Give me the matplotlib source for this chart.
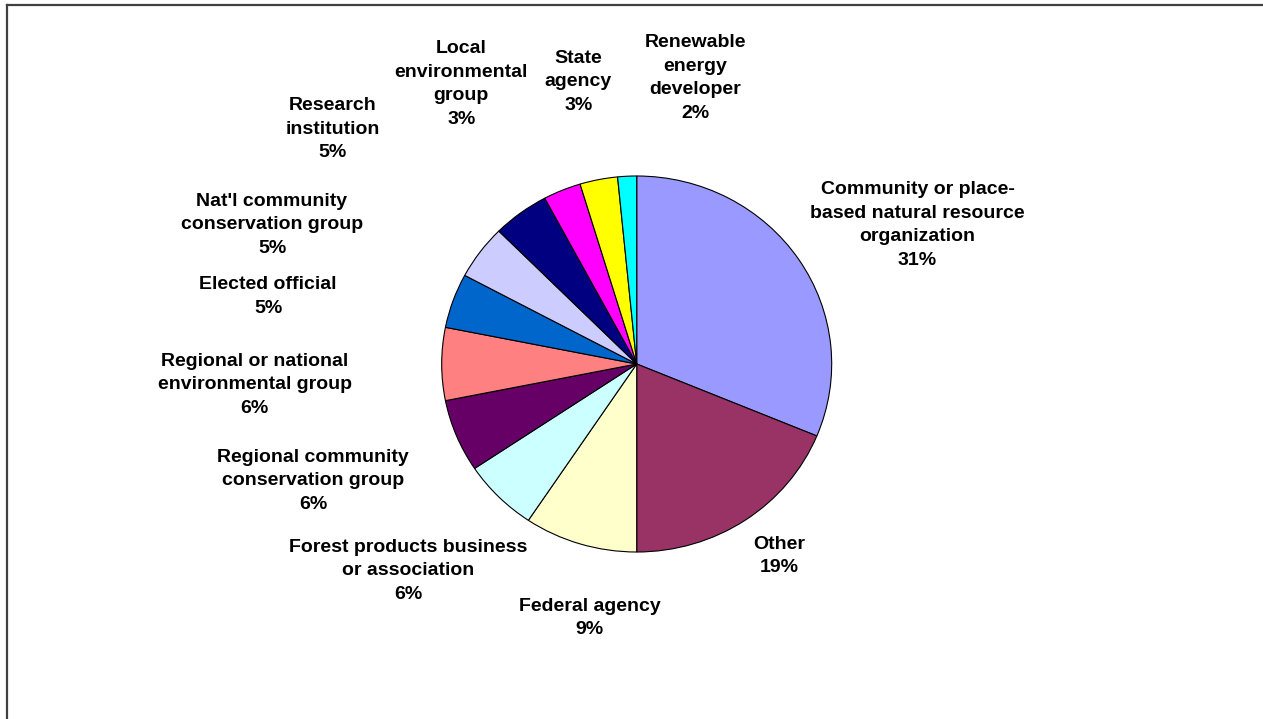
#!/usr/bin/env python3
import matplotlib

matplotlib.use("Agg")
import matplotlib.pyplot as plt
from matplotlib.lines import Line2D

# respondent counts by organization type (clockwise from 12 o'clock)
categories = [
    "Community or place-\nbased natural resource\norganization",
    "Other",
    "Federal agency",
    "Forest products business\nor association",
    "Regional community\nconservation group",
    "Regional or national\nenvironmental group",
    "Elected official",
    "Nat'l community\nconservation group",
    "Research\ninstitution",
    "Local\nenvironmental\ngroup",
    "State\nagency",
    "Renewable\nenergy\ndeveloper",
]
counts = [20, 12, 6, 4, 4, 4, 3, 3, 3, 2, 2, 1]
colors = [
    "#9999FF", "#993366", "#FFFFCC", "#CCFFFF", "#660066", "#FF8080",
    "#0066CC", "#CCCCFF", "#000080", "#FF00FF", "#FFFF00", "#00FFFF",
]

# label centres in pie units (x radius = y radius = 1)
label_pos = [
    (1.44, 0.74), (0.73, -1.02), (-0.24, -1.35), (-1.173, -1.10),
    (-1.66, -0.62), (-1.96, -0.11), (-1.89, 0.36), (-1.87, 0.74),
    (-1.56, 1.25), (-0.90, 1.49), (-0.30, 1.50), (0.30, 1.52),
]


def main() -> int:
    plt.rcParams["font.family"] = ["Liberation Sans", "DejaVu Sans"]
    W, H = 1263, 719
    fig = plt.figure(figsize=(W / 100, H / 100), dpi=100)

    cx, cy = 636.7, 364.0
    rx, ry = 195.0, 188.0
    ax = fig.add_axes([(cx - rx) / W, (H - cy - ry) / H, 2 * rx / W, 2 * ry / H])
    ax.pie(
        counts,
        colors=colors,
        startangle=90,
        counterclock=False,
        radius=1.0,
        wedgeprops={"edgecolor": "black", "linewidth": 0.8},
    )
    ax.set_aspect("auto")
    ax.set_xlim(-1, 1)
    ax.set_ylim(-1, 1)
    ax.axis("off")

    total = sum(counts)
    for name, n, (lx, ly) in zip(categories, counts, label_pos):
        pct = round(100 * n / total)
        ax.text(
            lx, ly, f"{name}\n{pct}%",
            ha="center", va="center", multialignment="center",
            fontsize=14, fontweight="bold", linespacing=1.5,
            clip_on=False,
        )

    # chart-area frame (only top and left edges visible)
    fig.add_artist(Line2D([7 / W, 1.0], [1 - 5 / H, 1 - 5 / H], transform=fig.transFigure,
                          color="#404040", linewidth=1.6))
    fig.add_artist(Line2D([7 / W, 7 / W], [0.0, 1 - 5 / H], transform=fig.transFigure,
                          color="#404040", linewidth=1.6))

    fig.savefig("out.png", dpi=100)
    plt.close(fig)
    return 0


if __name__ == "__main__":
    raise SystemExit(main())
